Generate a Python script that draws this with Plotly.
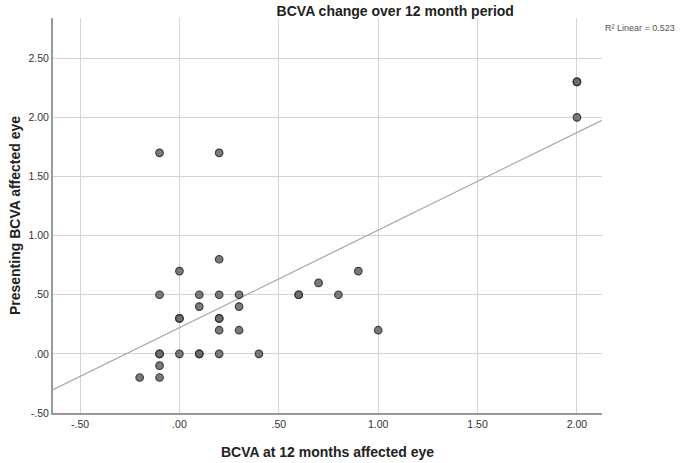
import numpy as np
import plotly.graph_objects as go

# Data
bcva_12m = [-0.1, 0.2, 2.0, 2.0, 2.0, 0.2, 0.0, 0.9, 0.7,
            -0.1, 0.1, 0.2, 0.3, 0.6, 0.6, 0.8,
            0.1, 0.3, 0.0, 0.0, 0.2, 0.2,
            0.2, 0.3, 1.0,
            -0.1, -0.1, 0.0, 0.1, 0.1, 0.2, 0.4,
            -0.1, -0.2, -0.1]
presenting = [1.7, 1.7, 2.3, 2.3, 2.0, 0.8, 0.7, 0.7, 0.6,
              0.5, 0.5, 0.5, 0.5, 0.5, 0.5, 0.5,
              0.4, 0.4, 0.3, 0.3, 0.3, 0.3,
              0.2, 0.2, 0.2,
              0.0, 0.0, 0.0, 0.0, 0.0, 0.0, 0.0,
              -0.1, -0.2, -0.2]

x_ticks = [-0.5, 0.0, 0.5, 1.0, 1.5, 2.0]
x_ticktext = ["-.50", ".00", ".50", "1.00", "1.50", "2.00"]
y_ticks = [-0.5, 0.0, 0.5, 1.0, 1.5, 2.0, 2.5]
y_ticktext = ["-.50", ".00", ".50", "1.00", "1.50", "2.00", "2.50"]
x_range = [-0.636, 2.126]
y_range = [-0.5, 2.84]
r2_label = "R² Linear = 0.523"

slope, intercept = np.polyfit(bcva_12m, presenting, 1)
fit_x = np.array(x_range)
fit_y = intercept + slope * fit_x

FONT = "Liberation Sans, Arial, sans-serif"

fig = go.Figure()
fig.add_trace(go.Scatter(x=fit_x, y=fit_y, mode="lines",
                         line=dict(color="#a6a6a6", width=1.2),
                         hoverinfo="skip", showlegend=False))
fig.add_trace(go.Scatter(x=bcva_12m, y=presenting, mode="markers",
                         marker=dict(size=7.5, color="#6c6c6c", opacity=0.9,
                                     line=dict(color="#2a2a2a", width=1.2)),
                         showlegend=False))

fig.update_layout(
    width=685, height=463,
    margin=dict(l=53, r=83, t=18, b=50),
    paper_bgcolor="white", plot_bgcolor="white",
    font=dict(family=FONT, color="#333333"),
    title=dict(text="<b>BCVA change over 12 month period</b>",
               x=0.577, xanchor="center", xref="container",
               y=1 - 11 / 463, yanchor="middle", yref="container",
               font=dict(size=14, color="#222222", family=FONT)),
    xaxis=dict(range=x_range, tickvals=x_ticks, ticktext=x_ticktext,
               showgrid=True, gridcolor="#d4d4d4", gridwidth=1.3,
               zeroline=False, showline=True, linecolor="#9a9a9a", linewidth=2,
               ticks="", tickfont=dict(size=10.5, color="#333333"),
               automargin=False,
               title=dict(text="<b>BCVA at 12 months affected eye</b>",
                          font=dict(size=14, color="#222222"), standoff=19)),
    yaxis=dict(range=y_range, tickvals=y_ticks, ticktext=y_ticktext,
               showgrid=True, gridcolor="#d4d4d4", gridwidth=1.3,
               zeroline=False, showline=True, linecolor="#9a9a9a", linewidth=2,
               ticks="", tickfont=dict(size=10.5, color="#333333"),
               automargin=False,
               title=dict(text="<b>Presenting BCVA affected eye</b>",
                          font=dict(size=14, color="#222222"), standoff=5)),
    annotations=[dict(text=r2_label, xref="paper", yref="paper",
                      x=1.002, y=0.975, xanchor="left", yanchor="middle",
                      showarrow=False, font=dict(size=9, color="#555555"))],
)

fig.write_html("out.html", config={"displayModeBar": False},
               post_script="document.body.style.margin='0px';")
